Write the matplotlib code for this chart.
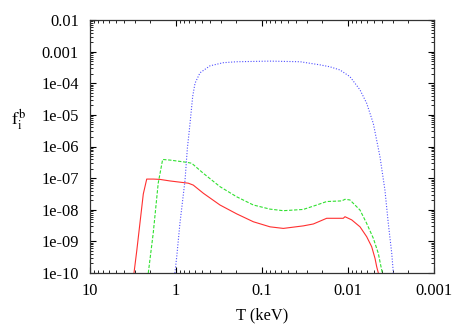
import numpy as np
import matplotlib
matplotlib.use("Agg")
import matplotlib.pyplot as plt
from matplotlib.ticker import LogLocator, FixedLocator, NullFormatter

plt.rcParams["font.family"] = ["Liberation Serif", "DejaVu Serif"]
plt.rcParams["mathtext.fontset"] = "stix"

# values (T in keV, log10 of f_i^b)
red_T = [3.08, 2.86, 2.62, 2.40, 2.19, 1.84, 1.54, 1.17, 0.72, 0.63, 0.48, 0.308,
         0.197, 0.126, 0.0807, 0.0565, 0.0331, 0.0253, 0.0177, 0.01135, 0.01084,
         0.00906, 0.00725, 0.00607, 0.0053, 0.00485, 0.00464, 0.00444]
red_logf = [-10, -9.3, -8.4, -7.5, -7.03, -7.03, -7.04, -7.09, -7.16, -7.22, -7.48, -7.85,
            -8.13, -8.38, -8.54, -8.59, -8.51, -8.45, -8.27, -8.27, -8.22,
            -8.32, -8.54, -8.85, -9.17, -9.54, -9.80, -10]

green_T = [2.10, 1.84, 1.61, 1.43, 1.17, 0.75, 0.656, 0.48, 0.308, 0.197, 0.126, 0.0807,
           0.0565, 0.0331, 0.0231, 0.0177, 0.0118, 0.01084, 0.0095, 0.00725, 0.00607,
           0.00508, 0.00444, 0.00425, 0.00399]
green_logf = [-10, -8.74, -7.16, -6.41, -6.43, -6.50, -6.53, -6.85, -7.27, -7.59, -7.85, -7.98,
              -8.03, -7.99, -7.85, -7.74, -7.72, -7.67, -7.69, -8.01, -8.43,
              -8.90, -9.38, -9.64, -10]

blue_T = [1.03, 0.98, 0.90, 0.785, 0.738, 0.706, 0.675, 0.64, 0.601, 0.526, 0.403, 0.282,
          0.197, 0.0807, 0.036, 0.021, 0.0162, 0.0124, 0.0095, 0.00725, 0.00607, 0.00508,
          0.00425, 0.00372, 0.0034, 0.0031, 0.00297]
blue_logf = [-10, -9.48, -8.43, -7.06, -6.06, -5.58, -5.06, -4.42, -4.0, -3.67, -3.45, -3.35,
             -3.32, -3.30, -3.32, -3.42, -3.48, -3.58, -3.79, -4.21, -4.63, -5.27,
             -6.32, -7.38, -8.43, -9.38, -10]

x_ticks = [10, 1, 0.1, 0.01, 0.001]
x_labels = ["10", "1", "0.1", "0.01", "0.001"]
y_ticks = [1e-10, 1e-9, 1e-8, 1e-7, 1e-6, 1e-5, 1e-4, 1e-3, 1e-2]
y_labels = ["1e-10", "1e-09", "1e-08", "1e-07", "1e-06", "1e-05", "1e-04", "0.001", "0.01"]

fig = plt.figure(figsize=(4.63, 3.24), dpi=100)
ax = fig.add_axes([90 / 463, 1 - 273 / 324, (434 - 90) / 463, (273 - 20) / 324])

ax.plot(red_T, 10 ** np.array(red_logf), color="#ff3030", lw=0.8, solid_joinstyle="round")
ax.plot(green_T, 10 ** np.array(green_logf), color="#30e030", lw=0.8, dashes=(3, 1.5))
ax.plot(blue_T, 10 ** np.array(blue_logf), color="#5050ff", lw=0.8, dashes=(1, 1.5))

ax.set_xscale("log")
ax.set_yscale("log")
ax.set_xlim(10, 0.001)
ax.set_ylim(1e-10, 1e-2)

ax.xaxis.set_major_locator(FixedLocator(x_ticks))
ax.set_xticklabels(x_labels)
ax.yaxis.set_major_locator(FixedLocator(y_ticks))
ax.set_yticklabels(y_labels)
ax.xaxis.set_minor_locator(LogLocator(base=10, subs=np.arange(2, 10), numticks=20))
ax.yaxis.set_minor_locator(LogLocator(base=10, subs=np.arange(2, 10), numticks=20))
ax.xaxis.set_minor_formatter(NullFormatter())
ax.yaxis.set_minor_formatter(NullFormatter())

ax.tick_params(which="both", direction="in", top=True, right=True, labelsize=11.8)
ax.tick_params(axis="x", which="major", pad=7)
ax.tick_params(axis="y", which="major", pad=8)
ax.tick_params(which="major", length=4.5, width=0.8)
ax.tick_params(which="minor", length=2.5, width=0.6)
for s in ax.spines.values():
    s.set_linewidth(0.9)
    s.set_color("#333333")

ax.set_xlabel("T (keV)", fontsize=11.8, labelpad=6)
fig.text(11 / 463, 1 - 120 / 324, r"$\mathrm{f_i^{\,b}}$", fontsize=13, va="center", ha="left")

fig.savefig("out.png", dpi=100)
